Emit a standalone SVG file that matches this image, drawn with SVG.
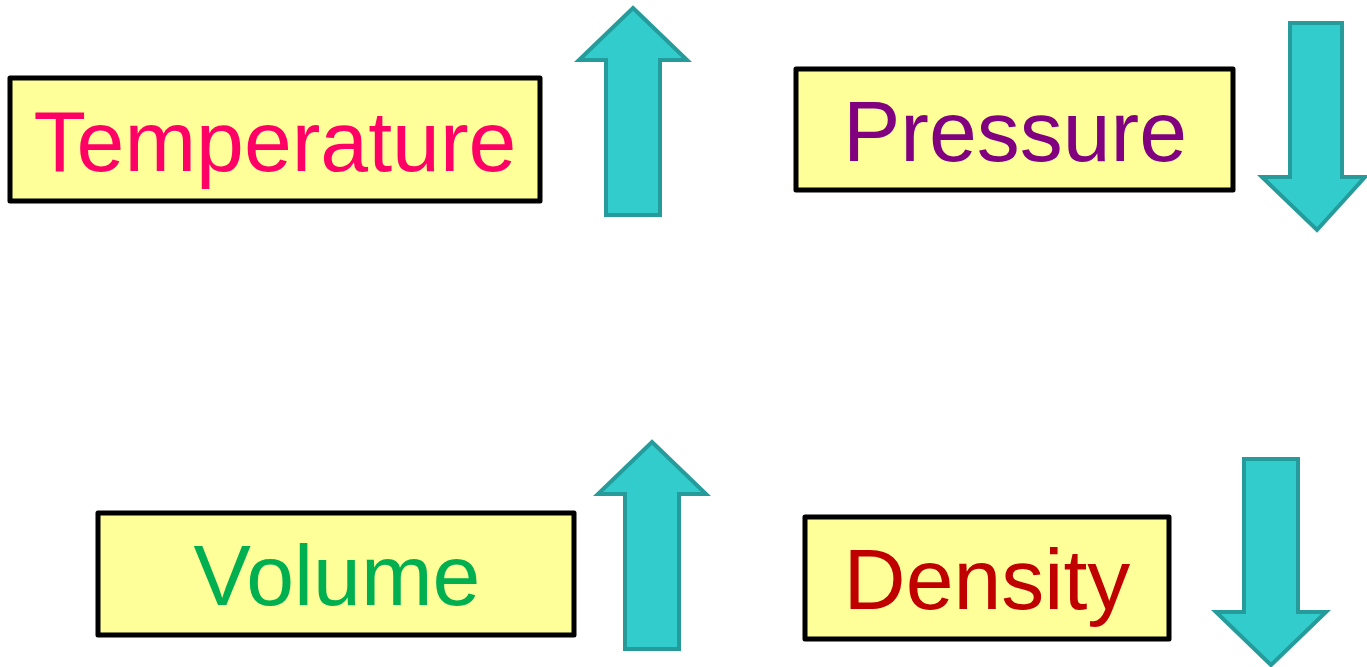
<svg xmlns="http://www.w3.org/2000/svg" width="1367" height="667" viewBox="0 0 1367 667">
<style>
.box{fill:#FFFF99;stroke:#000;stroke-width:5;stroke-linejoin:round}
.lbl{font-family:"Liberation Sans",Arial,sans-serif;font-size:86px;text-anchor:middle}
.arr{fill:#33CCCC;stroke:#259B9B;stroke-width:4;stroke-linejoin:miter}
</style>
<rect width="1367" height="667" fill="#fff"/>
<g id="temperature">
<rect class="box" x="10" y="78" width="530" height="123"/>
<text class="lbl" x="275" y="171" fill="#FF0066">Temperature</text>
</g>
<g id="pressure">
<rect class="box" x="796" y="69" width="437" height="121"/>
<text class="lbl" x="1015" y="161" fill="#800080">Pressure</text>
</g>
<g id="volume">
<rect class="box" x="98" y="513" width="476" height="122"/>
<text class="lbl" x="337" y="605" fill="#00B050">Volume</text>
</g>
<g id="density">
<rect class="box" x="805" y="517" width="364" height="122"/>
<text class="lbl" x="987" y="609" fill="#C00000">Density</text>
</g>
<g id="connectors">
<polygon class="arr" points="633,8 687,60 660,60 660,215 606,215 606,60 579,60"/>
<polygon class="arr" points="1317,230 1365,177 1342,177 1342,23 1290,23 1290,177 1262,177"/>
<polygon class="arr" points="652,442 706,494 679,494 679,649 625,649 625,494 598,494"/>
<polygon class="arr" points="1271,665 1326,612 1298,612 1298,459 1244,459 1244,612 1216,612"/>
</g>
</svg>
